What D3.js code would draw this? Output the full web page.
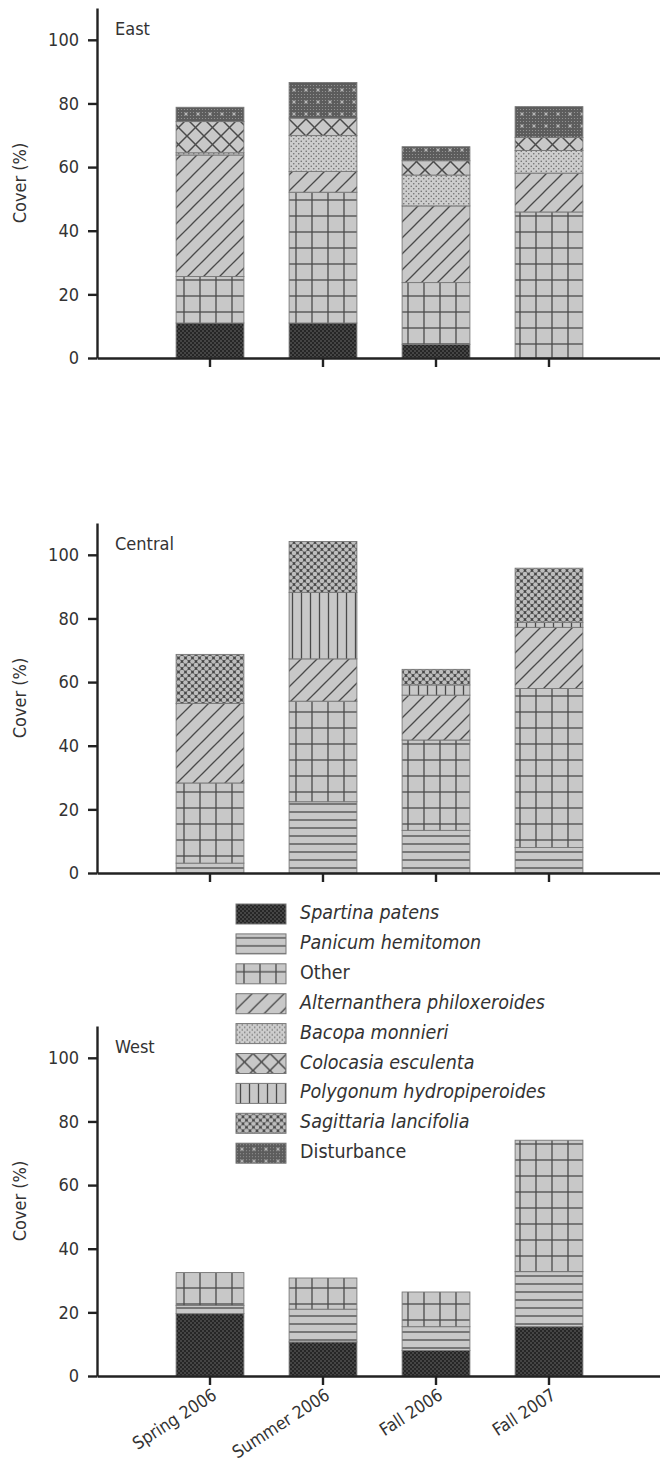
<!DOCTYPE html>
<html>
<head>
<meta charset="utf-8">
<script src="https://cdn.jsdelivr.net/npm/d3@7"></script>
<style>
  body { margin: 0; background: #fff; }
  text { font-family: "DejaVu Sans Condensed", "Liberation Sans Narrow", "Liberation Sans", sans-serif; fill: #333; }
</style>
</head>
<body>
<svg id="chart" width="660" height="1462"></svg>
<script>
// categories / legend
const seasons = ["Spring 2006", "Summer 2006", "Fall 2006", "Fall 2007"];
const species = ["Spartina patens", "Panicum hemitomon", "Other", "Alternanthera philoxeroides",
  "Bacopa monnieri", "Colocasia esculenta", "Polygonum hydropiperoides", "Sagittaria lancifolia", "Disturbance"];
const italicNames = [true, true, false, true, true, true, true, true, false];
const yTicks = [0, 20, 40, 60, 80, 100];

// cover (%) per species (legend order), one value per season, stacked bottom -> top
const eastCover = [
  [11.0, 11.0, 4.3, 0],      // Spartina
  [0, 0, 0, 0],              // Panicum
  [14.6, 41.1, 19.4, 45.9],  // Other
  [38.2, 6.5, 24.1, 12.2],   // Alternanthera
  [0.7, 11.3, 9.7, 7.1],     // Bacopa
  [9.8, 5.5, 4.5, 4.1],      // Colocasia
  [0, 0, 0, 0],              // Polygonum
  [0, 0, 0, 0],              // Sagittaria
  [4.5, 11.2, 4.4, 9.7]      // Disturbance
];
const centralCover = [
  [0, 0, 0, 0],
  [3.1, 22.4, 13.4, 8.0],
  [25.2, 31.6, 28.4, 50.0],
  [25.0, 13.3, 14.1, 19.2],
  [0, 0, 0, 0],
  [0, 0, 0, 0],
  [0, 20.9, 3.2, 1.6],
  [15.4, 16.0, 4.9, 17.0],
  [0, 0, 0, 0]
];
const westCover = [
  [19.6, 10.7, 8.0, 15.5],
  [2.6, 10.3, 7.5, 17.3],
  [10.3, 9.8, 10.9, 41.3],
  [0, 0, 0, 0],
  [0, 0, 0, 0],
  [0, 0, 0, 0],
  [0, 0, 0, 0],
  [0, 0, 0, 0],
  [0, 0, 0, 0]
];

const panels = [
  {name: "East", cover: eastCover, base: 358},
  {name: "Central", cover: centralCover, base: 873},
  {name: "West", cover: westCover, base: 1376}
];

const svg = d3.select("#chart");
const defs = svg.append("defs");
const GRAY = "#c8c8c8", INK = "#4a4a4a";

// hatch patterns, one per species
function pat(id, w, h, bg) {
  const p = defs.append("pattern").attr("id", id)
    .attr("patternUnits", "userSpaceOnUse").attr("width", w).attr("height", h);
  p.append("rect").attr("width", w).attr("height", h).attr("fill", bg);
  return p;
}
function ln(p, x1, y1, x2, y2, sw, col) {
  p.append("line").attr("x1", x1).attr("y1", y1).attr("x2", x2).attr("y2", y2)
    .attr("stroke", col || INK).attr("stroke-width", sw || 1.3);
}
function dots(p, pts, r, col) {
  pts.forEach(c => p.append("circle").attr("cx", c[0]).attr("cy", c[1]).attr("r", r).attr("fill", col));
}
let p;
// Spartina: dark with light dots
p = pat("p0", 4, 4, "#262626");
dots(p, [[1, 1], [3, 3]], 0.7, "#7c7c7c");
// Panicum: horizontal lines
p = pat("p1", 8, 8, GRAY); ln(p, 0, 4, 8, 4);
// Other: grid
p = pat("p2", 16, 16, GRAY); ln(p, 8, 0, 8, 16); ln(p, 0, 8, 16, 8);
// Alternanthera: diagonal
p = pat("p3", 16, 16, GRAY); ln(p, 0, 16, 16, 0); ln(p, -4, 4, 4, -4); ln(p, 12, 20, 20, 12);
// Bacopa: small dark dots
p = pat("p4", 5, 5, "#cdcdcd");
dots(p, [[1.25, 1.25], [3.75, 3.75]], 0.8, "#6e6e6e");
// Colocasia: wide cross-hatch
p = pat("p5", 17, 17, GRAY); ln(p, 0, 0, 17, 17, 1.5); ln(p, 0, 17, 17, 0, 1.5);
// Polygonum: vertical lines
p = pat("p6", 9, 9, GRAY); ln(p, 4.5, 0, 4.5, 9);
// Sagittaria: dense lattice
p = pat("p7", 7, 7, "#474747");
dots(p, [[0, 0], [7, 0], [0, 7], [7, 7], [3.5, 3.5]], 2.3, "#bdbdbd");
// Disturbance: dark gray, dots and small plus marks
p = pat("p8", 12, 12, "#5c5c5c");
for (let i = 0; i < 4; i++) for (let j = 0; j < 4; j++)
  dots(p, [[i * 3 + 1.5, j * 3 + 1.5]], 0.6, "#9a9a9a");
ln(p, 4.5, 6, 7.5, 6, 0.9, "#dcdcdc"); ln(p, 6, 4.5, 6, 7.5, 0.9, "#dcdcdc");

const x = d3.scaleBand().domain(seasons).range([97, 662]).paddingInner(0.4).paddingOuter(0.7);

panels.forEach((panel, k) => {
  const y = d3.scaleLinear().domain([0, 110]).range([panel.base, panel.base - 350]);
  const g = svg.append("g");

  // stacked bars
  seasons.forEach((s, j) => {
    let acc = 0;
    species.forEach((sp, i) => {
      const v = panel.cover[i][j];
      if (v <= 0) return;
      g.append("rect")
        .attr("x", x(s)).attr("width", x.bandwidth())
        .attr("y", y(acc + v)).attr("height", y(acc) - y(acc + v))
        .attr("fill", `url(#p${i})`)
        .attr("stroke", "#777").attr("stroke-width", 0.9);
      acc += v;
    });
  });

  // y axis
  const ya = g.append("g").attr("transform", "translate(97,0)")
    .call(d3.axisLeft(y).tickValues(yTicks).tickSize(9).tickSizeOuter(0).tickPadding(9));
  ya.selectAll("text").style("font-size", "18px").attr("fill", "#333");

  // x axis
  const xa = g.append("g").attr("transform", `translate(0,${panel.base})`)
    .call(d3.axisBottom(x).tickSize(9).tickSizeOuter(0).tickFormat(""));
  if (k === 2) {
    xa.selectAll(".tick").append("text")
      .attr("transform", "translate(8,22) rotate(-33)")
      .attr("text-anchor", "end")
      .attr("fill", "#333")
      .style("font-size", "17.5px")
      .text(d => d);
  }
  g.selectAll(".domain, .tick line").attr("stroke", "#222").attr("stroke-width", 2.4);

  g.append("text").attr("x", 115).attr("y", panel.base - 323)
    .style("font-size", "18px").text(panel.name);

  g.append("text")
    .attr("transform", `translate(26,${panel.base - 175}) rotate(-90)`)
    .attr("text-anchor", "middle")
    .style("font-size", "18px")
    .text("Cover (%)");
});

// legend
const leg = svg.append("g").attr("transform", "translate(236,904)");
species.forEach((sp, i) => {
  const row = leg.append("g").attr("transform", `translate(0,${i * 29.9})`);
  row.append("rect").attr("width", 50).attr("height", 20)
    .attr("fill", `url(#p${i})`).attr("stroke", "#777").attr("stroke-width", 1);
  row.append("text").attr("x", 64).attr("y", 15)
    .style("font-size", "19.5px")
    .style("font-style", italicNames[i] ? "italic" : "normal")
    .text(sp);
});
</script>
</body>
</html>
